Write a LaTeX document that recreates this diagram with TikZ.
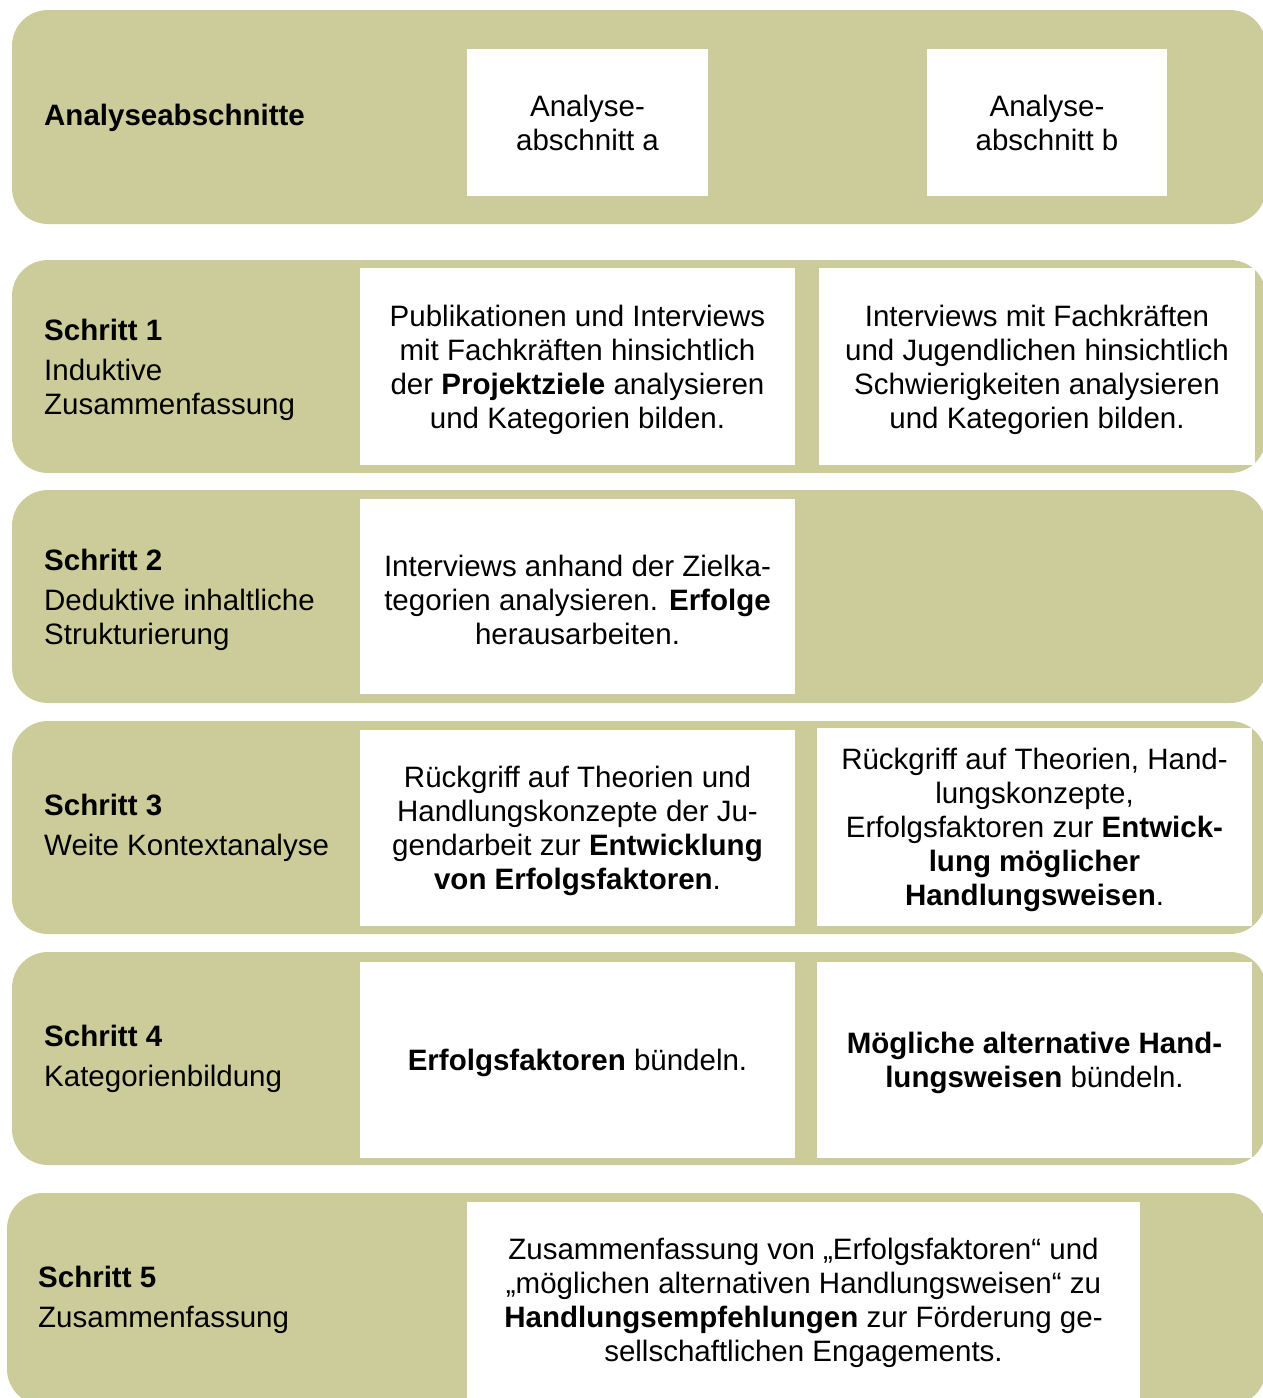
\documentclass[tikz,border=0pt]{standalone}
\usepackage{fontspec}
\setmainfont{Liberation Sans}
\definecolor{bandcol}{HTML}{CCCC9A}
\begin{document}
\begin{tikzpicture}[x=1pt,y=-1pt,
  band/.style={fill=bandcol,rounded corners=36pt},
  wbox/.style={fill=white,draw=none,inner sep=0pt},
  wtext/.style={inner sep=0pt,align=center,
    font=\fontsize{29.5}{34}\selectfont},
  lbl/.style={anchor=west,inner sep=0pt,align=left,yshift=-3pt,
    font=\fontsize{29.5}{34}\selectfont}]
\useasboundingbox (0,0) rectangle (1263,1398);
\clip (0,0) rectangle (1263,1398);
% bands
\fill[band] (12,10) rectangle (1266,224);
\fill[band] (12,260) rectangle (1266,473);
\fill[band] (12,490) rectangle (1266,703);
\fill[band] (12,721) rectangle (1266,934);
\fill[band] (12,952) rectangle (1266,1165);
\fill[band] (7,1193) rectangle (1266,1405);
% band 1
\node[lbl] (l0) at (44,115) {\textbf{Analyseabschnitte}};
\node[wbox,minimum width=241,minimum height=147] (a) at (587.5,122.5) {};
\node[wtext] (ta) at ([yshift=0pt]a.center) {Analyse-\\abschnitt a};
\node[wbox,minimum width=240,minimum height=147] (b) at (1047,122.5) {};
\node[wtext] (tb) at ([yshift=0pt]b.center) {Analyse-\\abschnitt b};
% band 2
\node[lbl] (l1) at (44,367) {\textbf{Schritt 1}\\[6pt]Induktive\\Zusammenfassung};
\node[wbox,minimum width=435,minimum height=197] (s1a) at (577.5,366.5) {};
\node[wtext] (t1a) at ([yshift=-3pt]s1a.center)
  {Publikationen und Interviews\\mit Fachkräften hinsichtlich\\der \textbf{Projektziele} analysieren\\und Kategorien bilden.};
\node[wbox,minimum width=436,minimum height=197] (s1b) at (1037,366.5) {};
\node[wtext] (t1b) at ([yshift=-3pt]s1b.center)
  {Interviews mit Fachkräften\\und Jugendlichen hinsichtlich\\Schwierigkeiten analysieren\\und Kategorien bilden.};
% band 3
\node[lbl] (l2) at (44,597) {\textbf{Schritt 2}\\[6pt]Deduktive inhaltliche\\Strukturierung};
\node[wbox,minimum width=435,minimum height=195] (s2a) at (577.5,596.5) {};
\node[wtext] (t2a) at ([yshift=-3pt]s2a.center)
  {Interviews anhand der Zielka-\\tegorien analysieren. \textbf{Erfolge}\\herausarbeiten.};
% band 4
\node[lbl] (l3) at (44,824.5) {\textbf{Schritt 3}\\[6pt]Weite Kontextanalyse};
\node[wbox,minimum width=435,minimum height=196] (s3a) at (577.5,827.5) {};
\node[wtext] (t3a) at ([yshift=-3pt]s3a.center)
  {Rückgriff auf Theorien und\\Handlungskonzepte der Ju-\\gendarbeit zur \textbf{Entwicklung}\\\textbf{von Erfolgsfaktoren}.};
\node[wbox,minimum width=435,minimum height=198] (s3b) at (1034.5,827) {};
\node[wtext] (t3b) at ([yshift=-3pt]s3b.center)
  {Rückgriff auf Theorien, Hand-\\lungskonzepte,\\Erfolgsfaktoren zur \textbf{Entwick-}\\\textbf{lung möglicher}\\\textbf{Handlungsweisen}.};
% band 5
\node[lbl] (l4) at (44,1055.5) {\textbf{Schritt 4}\\[6pt]Kategorienbildung};
\node[wbox,minimum width=435,minimum height=196] (s4a) at (577.5,1059.5) {};
\node[wtext] (t4a) at ([yshift=-3pt]s4a.center)
  {\textbf{Erfolgsfaktoren} bündeln.};
\node[wbox,minimum width=435,minimum height=196] (s4b) at (1034.5,1059.5) {};
\node[wtext] (t4b) at ([yshift=-3pt]s4b.center)
  {\textbf{Mögliche alternative Hand-}\\\textbf{lungsweisen} bündeln.};
% band 6
\node[lbl] (l5) at (38,1296.5) {\textbf{Schritt 5}\\[6pt]Zusammenfassung};
\node[wbox,minimum width=673,minimum height=200] (s5) at (803.5,1302) {};
\node[wtext] (t5) at ([yshift=-1pt]s5.center)
  {Zusammenfassung von „Erfolgsfaktoren“ und\\„möglichen alternativen Handlungsweisen“ zu\\\textbf{Handlungsempfehlungen} zur Förderung ge-\\sellschaftlichen Engagements.};
\end{tikzpicture}
\end{document}
